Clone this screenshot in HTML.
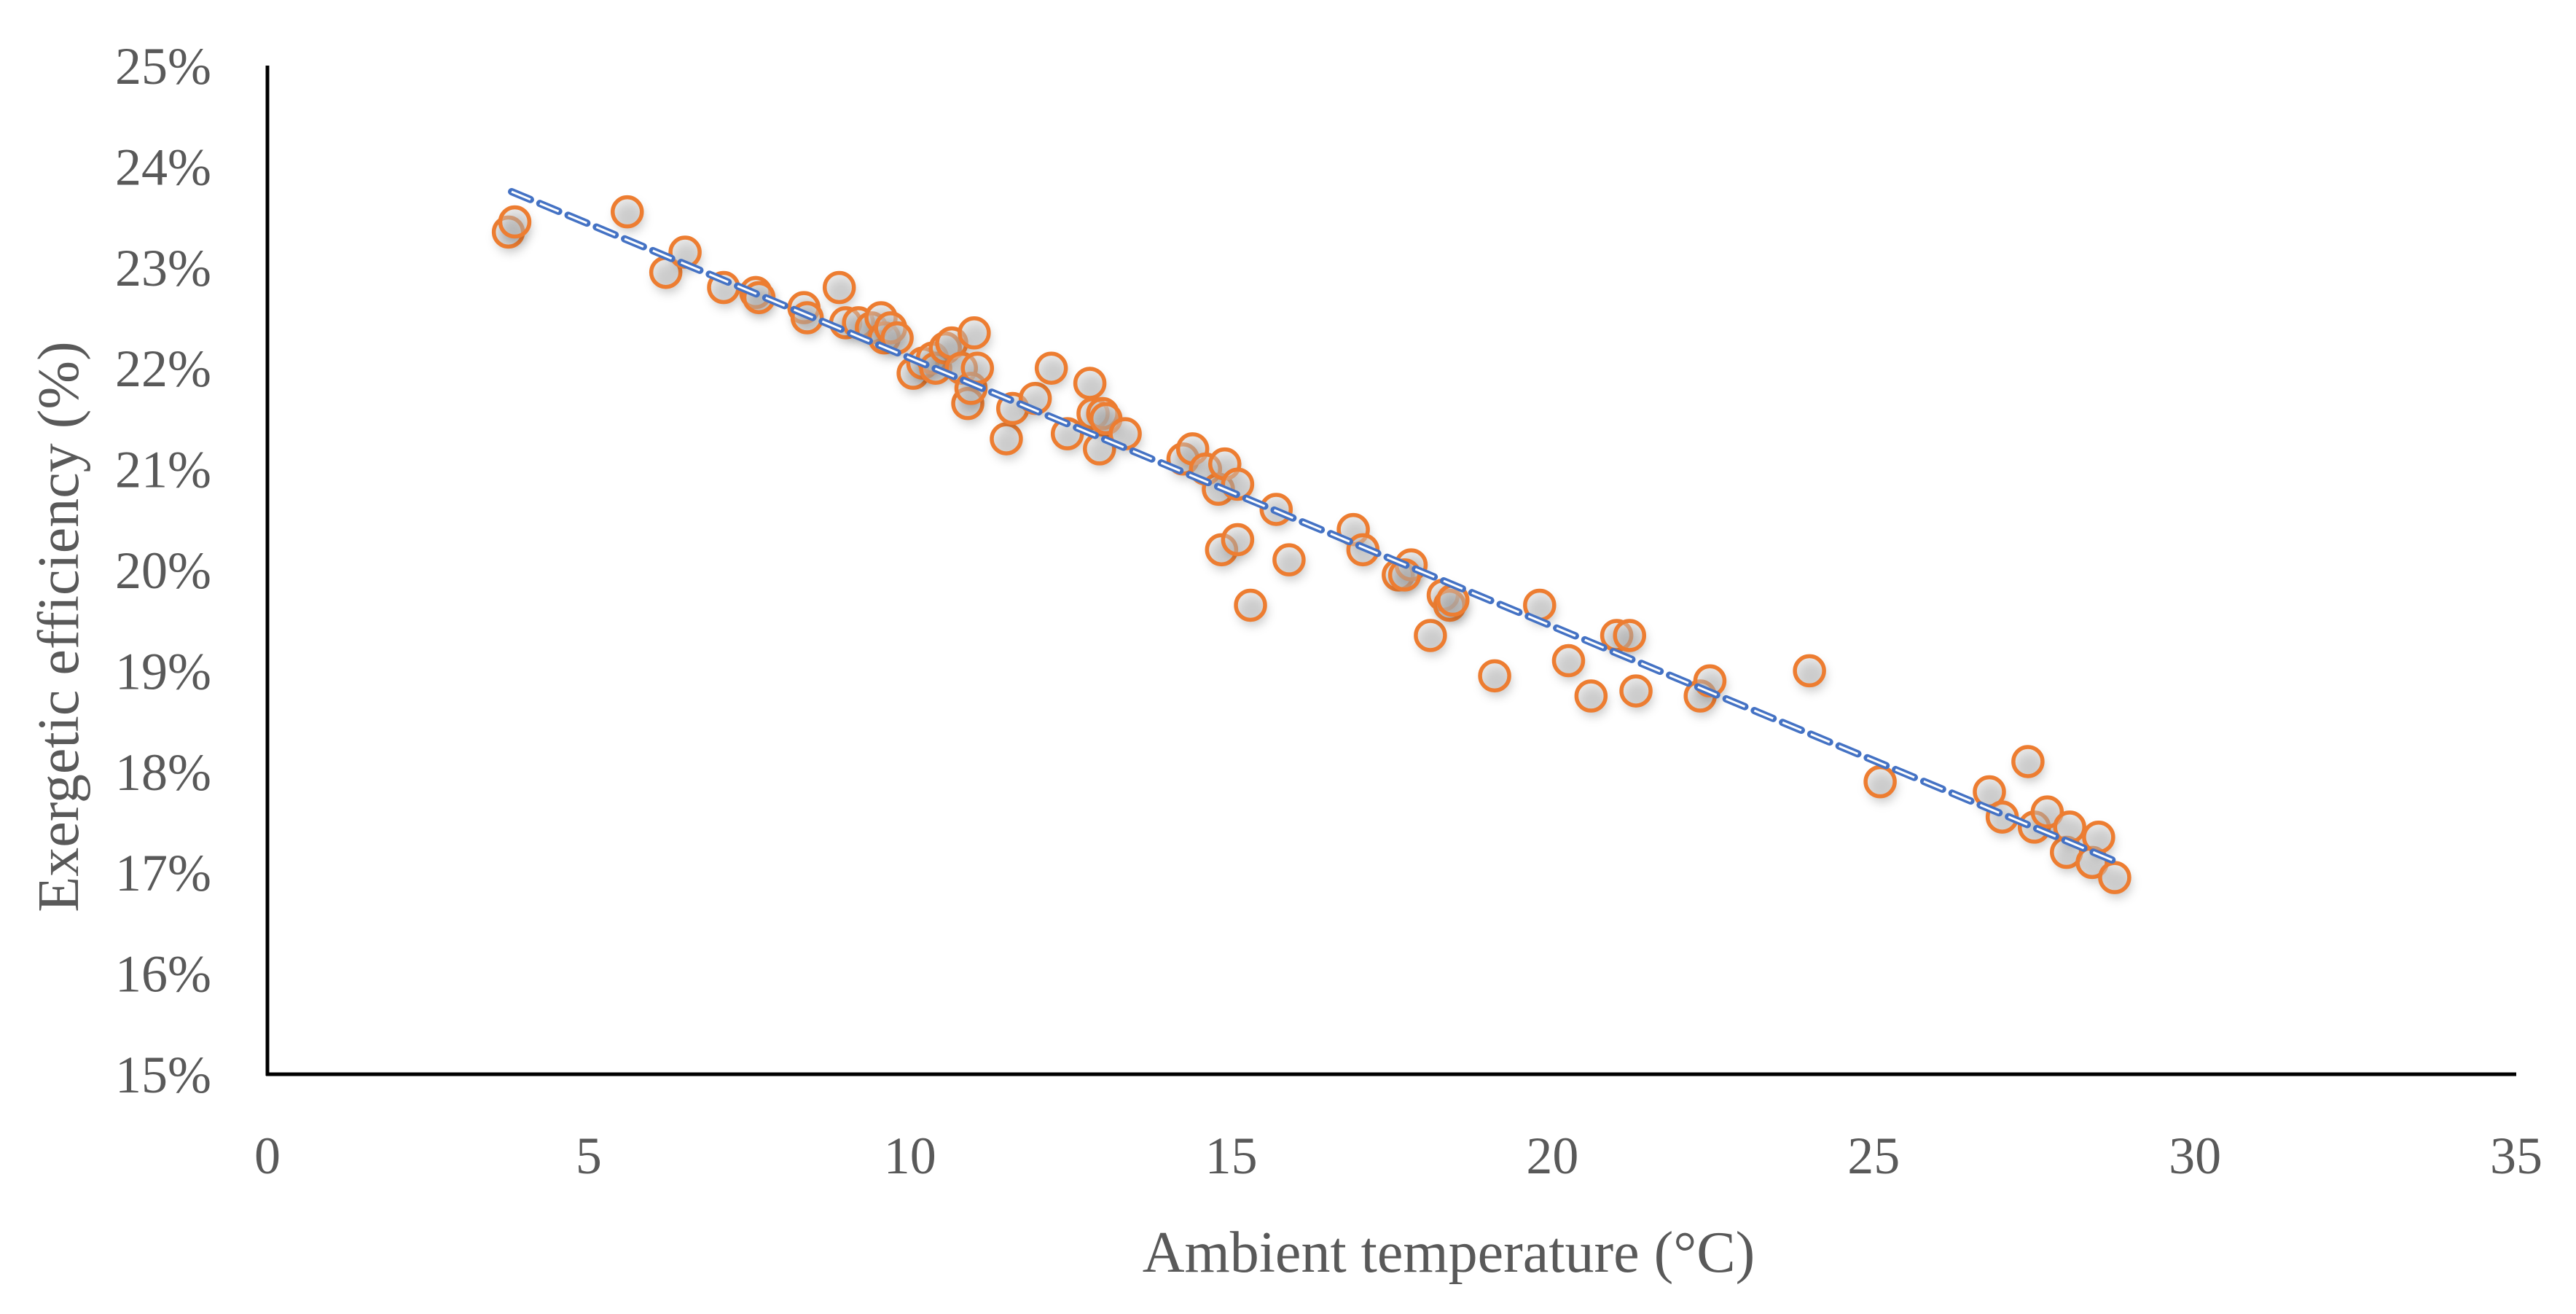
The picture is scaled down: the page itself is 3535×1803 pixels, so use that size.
<!DOCTYPE html>
<html><head><meta charset="utf-8"><style>
html,body{margin:0;padding:0;background:#fff}
svg{display:block}
text{font-family:"Liberation Serif",serif;fill:#595959}
</style></head><body>
<svg id="chart" width="3535" height="1803" viewBox="0 0 3535 1803" xmlns="http://www.w3.org/2000/svg">
<defs>
<filter id="sh" x="-50%" y="-50%" width="200%" height="200%"><feGaussianBlur stdDeviation="7"/></filter>
</defs>
<g id="points"></g>
<g id="trend"></g>
<g id="axes"></g>
<text transform="translate(107,860) rotate(-90)" text-anchor="middle" font-size="80">Exergetic efficiency (%)</text>
<text x="1988" y="1745" text-anchor="middle" font-size="80">Ambient temperature (°C)</text>
</svg>
<script>
const xTicks=[0,5,10,15,20,25,30,35];
const yTicks=[15,16,17,18,19,20,21,22,23,24,25];
const temps=[3.75,3.85,5.6,6.2,6.5,7.1,7.6,7.65,8.35,8.4,8.9,9.0,9.2,9.4,9.55,9.6,9.7,9.8,10.05,10.2,10.35,10.4,10.55,10.65,10.8,10.9,10.95,11.0,11.05,11.5,11.6,11.95,12.2,12.45,12.8,12.85,12.95,13.0,13.05,13.35,14.25,14.4,14.6,14.8,14.9,15.1,14.85,15.1,15.3,15.7,15.9,16.9,17.05,17.6,17.8,17.7,18.1,18.3,18.4,18.45,19.1,19.8,20.25,20.6,21.0,21.2,21.3,22.3,22.45,24.0,25.1,26.8,27.0,27.4,27.5,27.7,28.0,28.05,28.4,28.5,28.75];
const effs=[23.35,23.45,23.55,22.95,23.15,22.8,22.75,22.7,22.6,22.5,22.8,22.45,22.45,22.4,22.5,22.3,22.4,22.3,21.95,22.05,22.1,22.0,22.2,22.25,22.0,21.65,21.8,22.35,22.0,21.3,21.6,21.7,22.0,21.35,21.85,21.55,21.2,21.55,21.5,21.35,21.1,21.2,21.0,20.8,21.05,20.85,20.2,20.3,19.65,20.6,20.1,20.4,20.2,19.95,20.05,19.95,19.35,19.75,19.65,19.7,18.95,19.65,19.1,18.75,19.35,19.35,18.8,18.75,18.9,19.0,17.9,17.8,17.55,18.1,17.45,17.6,17.2,17.45,17.1,17.35,16.95];
const trendX=[3.8,28.8];
const trendY=[23.75,17.1];

const X0=367,X1=3453,Y0=1474,Y1=90;
const sx=v=>X0+(v-0)/(35-0)*(X1-X0);
const sy=v=>Y0-(v-15)/(25-15)*(Y0-Y1);
const NS="http://www.w3.org/2000/svg";
function mk(tag,attrs,parent){const e=document.createElementNS(NS,tag);for(const k in attrs)e.setAttribute(k,attrs[k]);parent.appendChild(e);return e;}
const axes=document.getElementById('axes'),pts=document.getElementById('points'),tr=document.getElementById('trend');

xTicks.forEach(t=>{const e=mk('text',{x:sx(t),y:1610,'text-anchor':'middle','font-size':'72'},axes);e.textContent=t;

});
yTicks.forEach(t=>{const e=mk('text',{x:290,y:sy(t)+25,'text-anchor':'end','font-size':'72'},axes);e.textContent=t+'%';

});
const ya=mk('line',{x1:X0,y1:Y1,x2:X0,y2:Y0+2,stroke:'#000','stroke-width':5},axes);


const xa=mk('line',{x1:X0-2,y1:Y0,x2:X1,y2:Y0,stroke:'#000','stroke-width':5},axes);



temps.forEach((t,i)=>{
  const cx=sx(t),cy=sy(effs[i]);
  mk('circle',{cx:cx+3,cy:cy+8,r:20,fill:'rgba(0,0,0,0.22)',filter:'url(#sh)'},pts);
  const c=mk('circle',{cx:cx,cy:cy,r:20,fill:'rgba(210,210,210,0.45)',stroke:'#ED7D31','stroke-width':5.5},pts);
  
  
});
const l1=mk('line',{x1:sx(trendX[0]),y1:sy(trendY[0]),x2:sx(trendX[1]),y2:sy(trendY[1]),stroke:'#4472C4','stroke-width':10,'stroke-dasharray':'28 14','stroke-linecap':'round'},tr);


const l2=mk('line',{x1:sx(trendX[0]),y1:sy(trendY[0]),x2:sx(trendX[1]),y2:sy(trendY[1]),stroke:'#fff','stroke-width':3,'stroke-dasharray':'28 14','stroke-linecap':'butt'},tr);


</script>
</body></html>
